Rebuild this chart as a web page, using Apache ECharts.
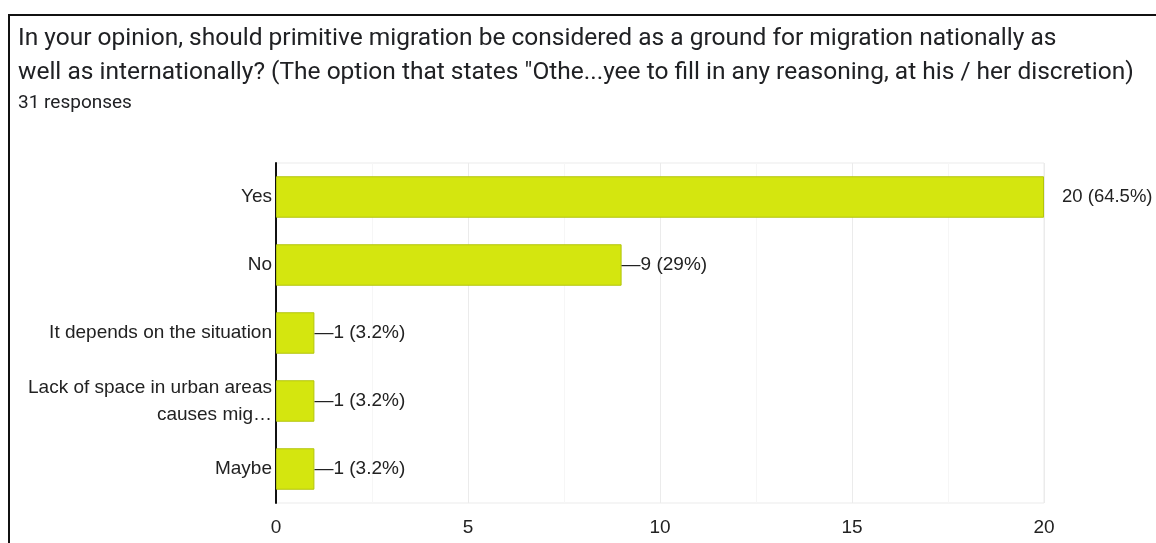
<!DOCTYPE html>
<html>
<head>
<meta charset="utf-8">
<script src="https://cdn.jsdelivr.net/npm/echarts@6/dist/echarts.min.js"></script>
<style>
  html, body { margin: 0; padding: 0; background: #fff; }
  #chart { width: 1156px; height: 543px; }
</style>
</head>
<body>
<div id="chart"></div>
<script>
// Survey answers and their response counts (top to bottom)
const categories = [
  'Yes',
  'No',
  'It depends on the situation',
  'Lack of space in urban areas\ncauses mig\u2026',
  'Maybe'
];
const counts = [20, 9, 1, 1, 1];
const totalResponses = 31;
const xTicks = [0, 5, 10, 15, 20];

const questionTitle =
  'In your opinion, should primitive migration be considered as a ground for migration nationally as\n' +
  'well as internationally? (The option that states "Othe...yee to fill in any reasoning, at his / her discretion)';
const responsesText = totalResponses + ' responses';

const LABEL_FONT = '"Liberation Sans", Arial, sans-serif';

function pct(v) {
  const p = Math.round(v / totalResponses * 1000) / 10;
  return (p % 1 === 0 ? p.toFixed(0) : p.toFixed(1)) + '%';
}

const maxCount = Math.max(...counts);
const barData = counts.map(v => {
  const item = { value: v };
  if (v === maxCount) {
    // the longest bar keeps its label detached to the right
    item.label = {
      distance: 18,
      fontSize: 18.5,
      formatter: p => p.value + ' (' + pct(p.value) + ')'
    };
  }
  return item;
});

const chart = echarts.init(document.getElementById('chart'), null, { renderer: 'canvas' });
chart.setOption({
  animation: false,
  backgroundColor: '#fff',
  title: {
    text: questionTitle,
    subtext: responsesText,
    left: 18,
    top: 22,
    padding: 0,
    itemGap: 4,
    textStyle: {
      fontFamily: 'Roboto, sans-serif',
      fontSize: 24.5,
      fontWeight: 'normal',
      color: '#202124',
      lineHeight: 34
    },
    subtextStyle: {
      fontFamily: 'Roboto, sans-serif',
      fontSize: 19,
      color: '#202124'
    }
  },
  graphic: [{
    type: 'polyline',
    silent: true,
    shape: { points: [[9, 543], [9, 15], [1156, 15]] },
    style: { stroke: '#111', lineWidth: 2, fill: null }
  }],
  grid: {
    left: 276,
    right: 112,
    top: 163,
    bottom: 40,
    show: true,
    borderColor: '#ebebeb',
    borderWidth: 1
  },
  xAxis: {
    type: 'value',
    min: xTicks[0],
    max: xTicks[xTicks.length - 1],
    interval: 5,
    axisLine: { show: false },
    axisTick: { show: false },
    axisLabel: { color: '#222', fontSize: 19, fontFamily: LABEL_FONT, margin: 15 },
    splitLine: { show: true, lineStyle: { color: '#ebebeb', width: 1 } },
    minorTick: { show: false, splitNumber: 2 },
    minorSplitLine: { show: true, lineStyle: { color: '#f6f6f6', width: 1 } }
  },
  yAxis: {
    type: 'category',
    data: categories,
    inverse: true,
    axisLine: { show: true, lineStyle: { color: '#111', width: 2 } },
    axisTick: { show: false },
    axisLabel: { color: '#222', fontSize: 19, fontFamily: LABEL_FONT, margin: 4, lineHeight: 27, align: 'right' },
    splitLine: { show: false }
  },
  series: [{
    type: 'bar',
    data: barData,
    barWidth: '61%',
    itemStyle: {
      color: '#d4e60f',
      borderColor: '#b3c40c',
      borderWidth: 1
    },
    label: {
      show: true,
      position: 'right',
      distance: 0,
      color: '#222',
      fontSize: 19,
      fontFamily: LABEL_FONT,
      formatter: p => '\u2014' + p.value + ' (' + pct(p.value) + ')'
    }
  }]
});
</script>
</body>
</html>
